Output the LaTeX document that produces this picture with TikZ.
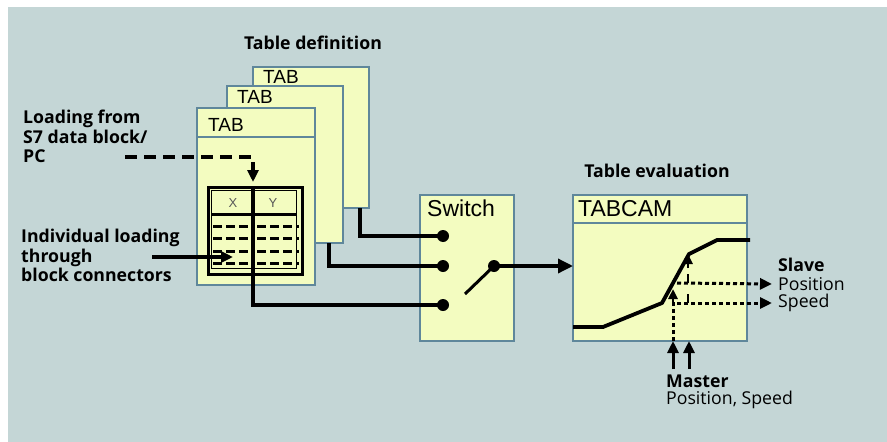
\documentclass[tikz,border=0pt]{standalone}
\usepackage{fontspec}
\setmainfont{Open Sans}
\newfontfamily\boxfont{Liberation Sans}
\usetikzlibrary{arrows.meta}

\definecolor{panel}{RGB}{196,214,214}
\definecolor{boxfill}{RGB}{243,252,192}
\definecolor{boxline}{RGB}{95,135,155}

\tikzset{
  blk/.style={draw=boxline, fill=boxfill, line width=2pt, inner sep=0pt, outer sep=0pt, anchor=north west},
  conn/.style={line width=3.4pt, black},
  dashline/.style={line width=3.4pt, black, dash pattern=on 12pt off 7pt},
  dotline/.style={line width=3pt, black, dash pattern=on 4pt off 3pt},
  rowdash/.style={line width=3pt, black, dash pattern=on 9pt off 4pt},
  dot/.style={circle, fill=black, inner sep=0pt, minimum size=12pt},
  bigtip/.tip={Triangle[length=15pt, width=14pt]},
  tip/.tip={Triangle[length=12pt, width=11pt]},
  smalltip/.tip={Triangle[length=10pt, width=9pt]},
  lbl/.style={font=\fontsize{17.7}{19.5}\selectfont\bfseries, align=left, anchor=north west, inner sep=0pt},
  plain/.style={font=\fontsize{17.7}{19}\selectfont, anchor=west, inner sep=0pt},
  title/.style={font=\fontsize{17.7}{18}\selectfont\bfseries, inner sep=0pt},
  head/.style={font=\boxfont\fontsize{19}{19}\selectfont, anchor=north west, inner sep=0pt},
  bighead/.style={font=\boxfont\fontsize{23}{23}\selectfont, anchor=north west, inner sep=0pt},
}

\begin{document}
\begin{tikzpicture}[x=1pt, y=-1pt]
\useasboundingbox (0,0) rectangle (887,442);
\fill[panel] (8,7) rectangle (887,442);

% --- table definition: stacked TAB blocks
\node[title] (tdef) at (313,43) {Table definition};
\node[blk, minimum width=116pt, minimum height=141pt] (tab3) at (253,67) {};
\node[head] at (263,70) {TAB};
\node[blk, minimum width=116pt, minimum height=157pt] (tab2) at (227,86) {};
\node[head] at (237,90) {TAB};
\node[blk, minimum width=118pt, minimum height=177pt] (tab1) at (197,108) {};
\node[head] at (208,118) {TAB};
\coordinate (sep1) at (0,137);
\draw[boxline, line width=2pt] (tab1.west |- sep1) -- (tab1.east |- sep1);

% inner X/Y table
\node[draw=black, line width=2.8pt, minimum width=94pt, minimum height=87pt, inner sep=0pt, anchor=north west] (tbl) at (207,186) {};
\draw[line width=1.6pt] (211.5,190.5) rectangle (296.5,268.5);
\coordinate (divx) at (253,0);
\node[font=\boxfont\fontsize{13}{13}\selectfont, text=black!65] at (233,203) {X};
\node[font=\boxfont\fontsize{13}{13}\selectfont, text=black!65] at (273,203) {Y};
\draw[line width=3pt] (211,214) -- (297,214);
\foreach \yy in {226,238,251,263} {
  \draw[rowdash] (213,\yy) -- (251,\yy);
  \draw[rowdash] (257,\yy) -- (299,\yy);
}

% left-hand labels and their inputs
\node[lbl] (ldlbl) at (23,110) {Loading from\\S7 data block/\\PC};
\coordinate (ldstart) at (125,157);
\draw[dashline, -tip] (ldstart) -| ([yshift=4pt]tbl.north -| divx);
\node[lbl] (indlbl) at (21,229) {Individual loading\\through\\block connectors};
\coordinate (indstart) at (152,257);
\draw[conn, -tip] (indstart) -- (233,257);

% --- switch block
\node[blk, minimum width=94pt, minimum height=146pt] (sw) at (420,195) {};
\node[bighead] at (427,200) {Switch};
\node[dot] (d1) at (443,236) {};
\node[dot] (d2) at (443,266) {};
\node[dot] (d3) at (443,305) {};
\node[dot] (pv) at (494,266) {};
\coordinate (blade) at (465,294);
\draw[line width=3pt] (blade) -- (pv.center);

% connections TAB -> switch
\draw[conn] ([xshift=-9pt]tab3.south east) |- (d1.center);
\draw[conn] ([xshift=-14pt]tab2.south east) |- (d2.center);
\draw[conn] (tbl.north -| divx) |- (d3.center);

% --- table evaluation
\node[title] (teval) at (657,171) {Table evaluation};
\node[blk, minimum width=174pt, minimum height=146pt] (tc) at (573,195) {};
\node[bighead] at (578,200) {TABCAM};
\coordinate (sep2) at (0,223);
\draw[boxline, line width=2pt] (tc.west |- sep2) -- (tc.east |- sep2);
\draw[conn, -bigtip] (pv.center) -- (pv.center -| tc.west);

% cam profile
\draw[line width=3.8pt, line join=round] (573,327) -- (603,327) -- (662,303) -- (689,254) -- (717,240) -- (750,240);

% master inputs and slave outputs
\draw[dotline] (673,341) -- (673,300);
\draw[-smalltip, line width=2.5pt] (673,304) -- (673,289);
\draw[-smalltip, line width=2.5pt] (688,268) -- (688,254);
\draw[line width=2.5pt] (688,274) -- (688,283);
\draw[line width=2.5pt] (688,294) -- (688,303);

\node[lbl, anchor=west] (slv) at (778,265) {Slave};
\node[plain] (spos) at (778,284) {Position};
\node[plain] (sspd) at (778,303) {Speed};
\draw[dotline, -tip] (677,283) -- ([xshift=-6pt]spos.west);
\draw[dotline, -tip] (677,303) -- ([xshift=-6pt]sspd.west);

\node[lbl, anchor=west] (mst) at (666,381) {Master};
\node[plain] (mps) at (666,400) {Position, Speed};
\coordinate (m1) at (673,369);
\coordinate (m2) at (689,369);
\draw[conn, line width=3pt, -tip] (m1) -- (m1 |- tc.south);
\draw[conn, line width=3pt, -tip] (m2) -- (m2 |- tc.south);
\end{tikzpicture}
\end{document}
